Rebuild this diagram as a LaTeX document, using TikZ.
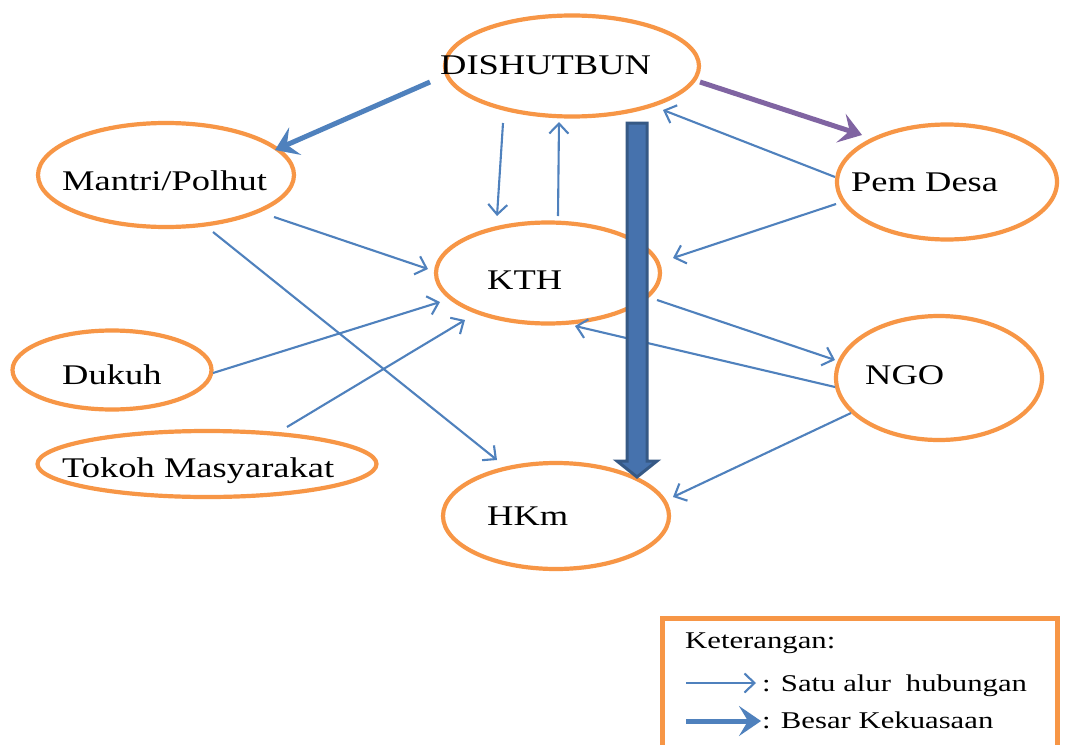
\documentclass[tikz,border=0pt]{standalone}
\usepackage{fontspec}
\setmainfont{Liberation Serif}[FakeStretch=1.28]
\usetikzlibrary{shapes.geometric,arrows.meta,calc}
\definecolor{orng}{HTML}{F79646}
\definecolor{lblue}{HTML}{4F81BD}
\definecolor{purp}{HTML}{8064A2}
\definecolor{bdark}{HTML}{365985}
\definecolor{bfill}{HTML}{4672AD}
\tikzset{
  oval/.style={ellipse, draw=orng, line width=4.2pt, inner sep=0pt},
  lbl/.style={anchor=base west, inner sep=0pt, font=\fontsize{28.5}{32}\selectfont},
  leglbl/.style={anchor=base west, inner sep=0pt, font=\fontsize{24}{28}\selectfont},
  rel/.style={draw=lblue, line width=2.1pt, -{Straight Barb[length=10pt,width=19pt,line width=2.1pt]}},
  power/.style={draw=lblue, line width=5pt, -{Stealth[length=22pt,width=30pt,inset=9pt]}},
  powerp/.style={draw=purp, line width=5pt, -{Stealth[length=22pt,width=30pt,inset=9pt]}},
  bigarrow/.style={fill=bfill, draw=bdark, line width=3pt, line join=miter},
  legbox/.style={draw=orng, line width=5pt, inner sep=0pt}
}
\begin{document}
\begin{tikzpicture}[x=1pt,y=-1pt]
\useasboundingbox (0,0) rectangle (1065,744);
\fill[white] (0,0) rectangle (1065,744);
% ellipses
\node[oval, minimum width=254pt, minimum height=101pt] (dis) at (572,66) {};
\node[oval, minimum width=256pt, minimum height=104pt] (man) at (166,175) {};
\node[oval, minimum width=220pt, minimum height=115pt] (pem) at (947,182) {};
\node[oval, minimum width=224pt, minimum height=101pt] (kth) at (548,273) {};
\node[oval, minimum width=199pt, minimum height=79pt] (duk) at (112,370) {};
\node[oval, minimum width=206pt, minimum height=124pt] (ngo) at (939,378) {};
\node[oval, minimum width=339pt, minimum height=66pt] (tok) at (207,464) {};
\node[oval, minimum width=226pt, minimum height=106pt] (hkm) at (556,516) {};
% labels
\node[lbl] (tdis) at ($(dis)+(-132,8)$) {DISHUTBUN};
\node[lbl] (tman) at ($(man)+(-104,15)$) {Mantri/Polhut};
\node[lbl] (tpem) at ($(pem)+(-96,9)$) {Pem Desa};
\node[lbl] (tkth) at ($(kth)+(-61,16)$) {KTH};
\node[lbl] (tduk) at ($(duk)+(-50,14)$) {Dukuh};
\node[lbl] (tngo) at ($(ngo)+(-74,6)$) {NGO};
\node[lbl] (ttok) at ($(tok)+(-145,13)$) {Tokoh Masyarakat};
\node[lbl] (thkm) at ($(hkm)+(-69,9)$) {HKm};
% thin relation arrows
\draw[rel] ($(dis)+(-69,57)$) -- ($(kth)+(-51,-57)$);
\draw[rel] ($(kth)+(10,-57)$) -- ($(dis)+(-13,56)$);
\draw[rel] ($(pem)+(-112,-5)$) -- ($(dis)+(91,44)$);
\draw[rel] ($(pem)+(-111,22)$) -- ($(kth)+(125,-15)$);
\draw[rel] ($(man)+(108,42)$) -- ($(kth)+(-120,-4)$);
\draw[rel] ($(man)+(47,57)$) -- ($(hkm)+(-59,-56)$);
\draw[rel] ($(duk)+(101,3)$) -- ($(kth)+(-108,29)$);
\draw[rel] ($(tok)+(80,-37)$) -- ($(kth)+(-83,47)$);
\draw[rel] ($(kth)+(109,27)$) -- ($(ngo)+(-104,-18)$);
\draw[rel] ($(ngo)+(-104,9)$) -- ($(kth)+(27,53)$);
\draw[rel] ($(ngo)+(-88,35)$) -- ($(hkm)+(117,-19)$);
% power arrows
\draw[power] ($(dis)+(-142,16)$) -- ($(man)+(109,-25)$);
\draw[powerp] ($(dis)+(128,16)$) -- ($(pem)+(-85,-47)$);
% big vertical arrow
\coordinate (bigtop) at ($(dis)+(65,57)$);
\coordinate (bigtip) at ($(hkm)+(81,-39)$);
\draw[bigarrow] ($(bigtop)+(-10,0)$) -- ($(bigtop)+(10,0)$) -- ($(bigtip)+(10,-16)$) -- ($(bigtip)+(20,-16)$) -- (bigtip) -- ($(bigtip)+(-20,-16)$) -- ($(bigtip)+(-10,-16)$) -- cycle;
% legend
\node[legbox, minimum width=395pt, minimum height=150pt, anchor=north west] (leg) at (660,616) {};
\node[leglbl] (lk) at ($(leg.north west)+(25,32)$) {Keterangan:};
\coordinate (l1a) at ($(leg.north west)+(26,67)$);
\coordinate (l1b) at ($(leg.north west)+(96,67)$);
\coordinate (l2a) at ($(leg.north west)+(26,105)$);
\coordinate (l2b) at ($(leg.north west)+(101,105)$);
\draw[rel] (l1a) -- (l1b);
\draw[power] (l2a) -- (l2b);
\node[leglbl] (ls) at ($(leg.north west)+(102,75)$) {: Satu alur\hspace{0.3em} hubungan};
\node[leglbl] (lb) at ($(leg.north west)+(102,112)$) {: Besar Kekuasaan};
\end{tikzpicture}
\end{document}
